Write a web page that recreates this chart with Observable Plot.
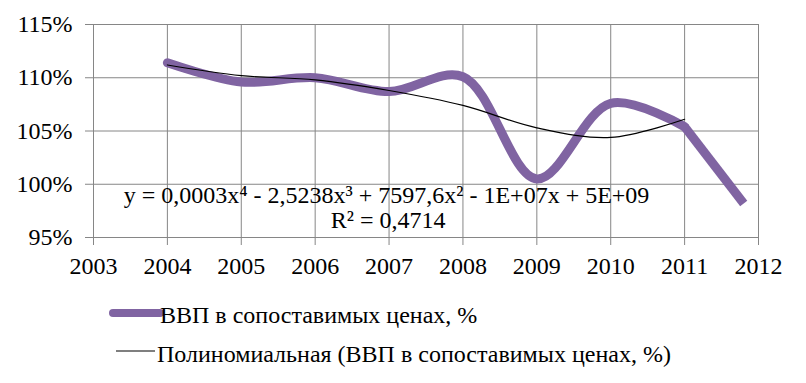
<!DOCTYPE html>
<html>
<head>
<meta charset="utf-8">
<script src="https://cdn.jsdelivr.net/npm/d3@7"></script>
<script src="https://cdn.jsdelivr.net/npm/@observablehq/plot@0.6"></script>
<style>
  body { margin: 0; padding: 0; background: white; font-family: 'Liberation Serif', 'Times New Roman', serif; }
  .leg { position: absolute; font-size: 24px; line-height: 1; white-space: nowrap; font-family: 'Liberation Serif', 'Times New Roman', serif; }
</style>
</head>
<body>
<div id="wrap" style="position: relative; width: 806px; height: 383px;">
  <div id="chart"></div>
  <svg style="position: absolute; left: 107px; top: 305px;" width="60" height="16"><line x1="6" x2="53" y1="8" y2="8" stroke="#8064A2" stroke-width="8" stroke-linecap="round"></line></svg>
  <div id="leg1" class="leg" style="left: 160px; top: 302.6px;"></div>
  <svg style="position: absolute; left: 110px; top: 342.7px;" width="60" height="16"><line x1="6" x2="45" y1="8" y2="8" stroke="black" stroke-width="1.2"></line></svg>
  <div id="leg2" class="leg" style="left: 157px; top: 341.6px;"></div>
</div>
<script>
// Data
const years = [2004, 2005, 2006, 2007, 2008, 2009, 2010, 2011, 2011.8];
const gdp = [111.4, 109.6, 110.0, 108.7, 110.1, 100.5, 107.6, 105.4, 98.2];
const trendYears = [2004, 2005, 2006, 2007, 2008, 2009, 2010, 2011];
const trend = [111.2, 110.2, 109.8, 108.8, 107.4, 105.3, 104.4, 106.1];
const xTicks = [2003, 2004, 2005, 2006, 2007, 2008, 2009, 2010, 2011, 2012];
const yTicks = [95, 100, 105, 110, 115];
const seriesName = "ВВП в сопоставимых ценах, %";
const trendName = "Полиномиальная (ВВП в сопоставимых ценах, %)";
const equation = "y = 0,0003x⁴ - 2,5238x³ + 7597,6x² - 1E+07x + 5E+09";
const rSquared = "R² = 0,4714";

const gdpRows = years.map((x, i) => ({x, y: gdp[i]}));
const trendRows = trendYears.map((x, i) => ({x, y: trend[i]}));
const smoothPart = gdpRows.slice(0, gdpRows.length - 1);
const lastPart = gdpRows.slice(gdpRows.length - 2);

const grid = "#868686";
const purple = "#8064A2";
const fam = "'Liberation Serif', 'Times New Roman', serif";

const chart = Plot.plot({
  width: 806,
  height: 290,
  marginLeft: 93,
  marginRight: 48,
  marginTop: 24,
  marginBottom: 53,
  style: {fontFamily: fam, fontSize: "24px", color: "black", background: "white", overflow: "visible"},
  x: {domain: [2003, 2012], label: null},
  y: {domain: [95, 115], label: null},
  marks: [
    Plot.gridX(xTicks, {stroke: grid, strokeOpacity: 1}),
    Plot.gridY(yTicks, {stroke: grid, strokeOpacity: 1}),
    Plot.axisX(xTicks, {label: null, tickSize: 8, tickPadding: 11, stroke: grid, fill: "black", fontSize: 24, fontFamily: fam, tickFormat: d => String(d)}),
    Plot.axisY(yTicks, {label: null, tickSize: 8, tickPadding: 13, stroke: grid, fill: "black", fontSize: 24, fontFamily: fam, tickFormat: d => d + "%"}),
    Plot.line(smoothPart, {x: "x", y: "y", stroke: purple, strokeWidth: 9, curve: "catmull-rom", strokeLinecap: "round", strokeLinejoin: "round"}),
    Plot.line(lastPart, {x: "x", y: "y", stroke: purple, strokeWidth: 9, curve: "linear", strokeLinecap: "butt"}),
    Plot.line(trendRows, {x: "x", y: "y", stroke: "black", strokeWidth: 1.2, curve: "catmull-rom"}),
    Plot.text([equation], {text: d => d, frameAnchor: "bottom", textAnchor: "middle", lineAnchor: "middle", dx: -39.5, dy: -41.7, fontSize: 24, fontFamily: fam, fill: "black"}),
    Plot.text([rSquared], {text: d => d, frameAnchor: "bottom", textAnchor: "end", lineAnchor: "middle", dx: 19.5, dy: -16.7, fontSize: 24, fontFamily: fam, fill: "black"})
  ]
});

document.getElementById("chart").appendChild(chart);
document.getElementById("leg1").textContent = seriesName;
document.getElementById("leg2").textContent = trendName;
</script>
</body>
</html>
